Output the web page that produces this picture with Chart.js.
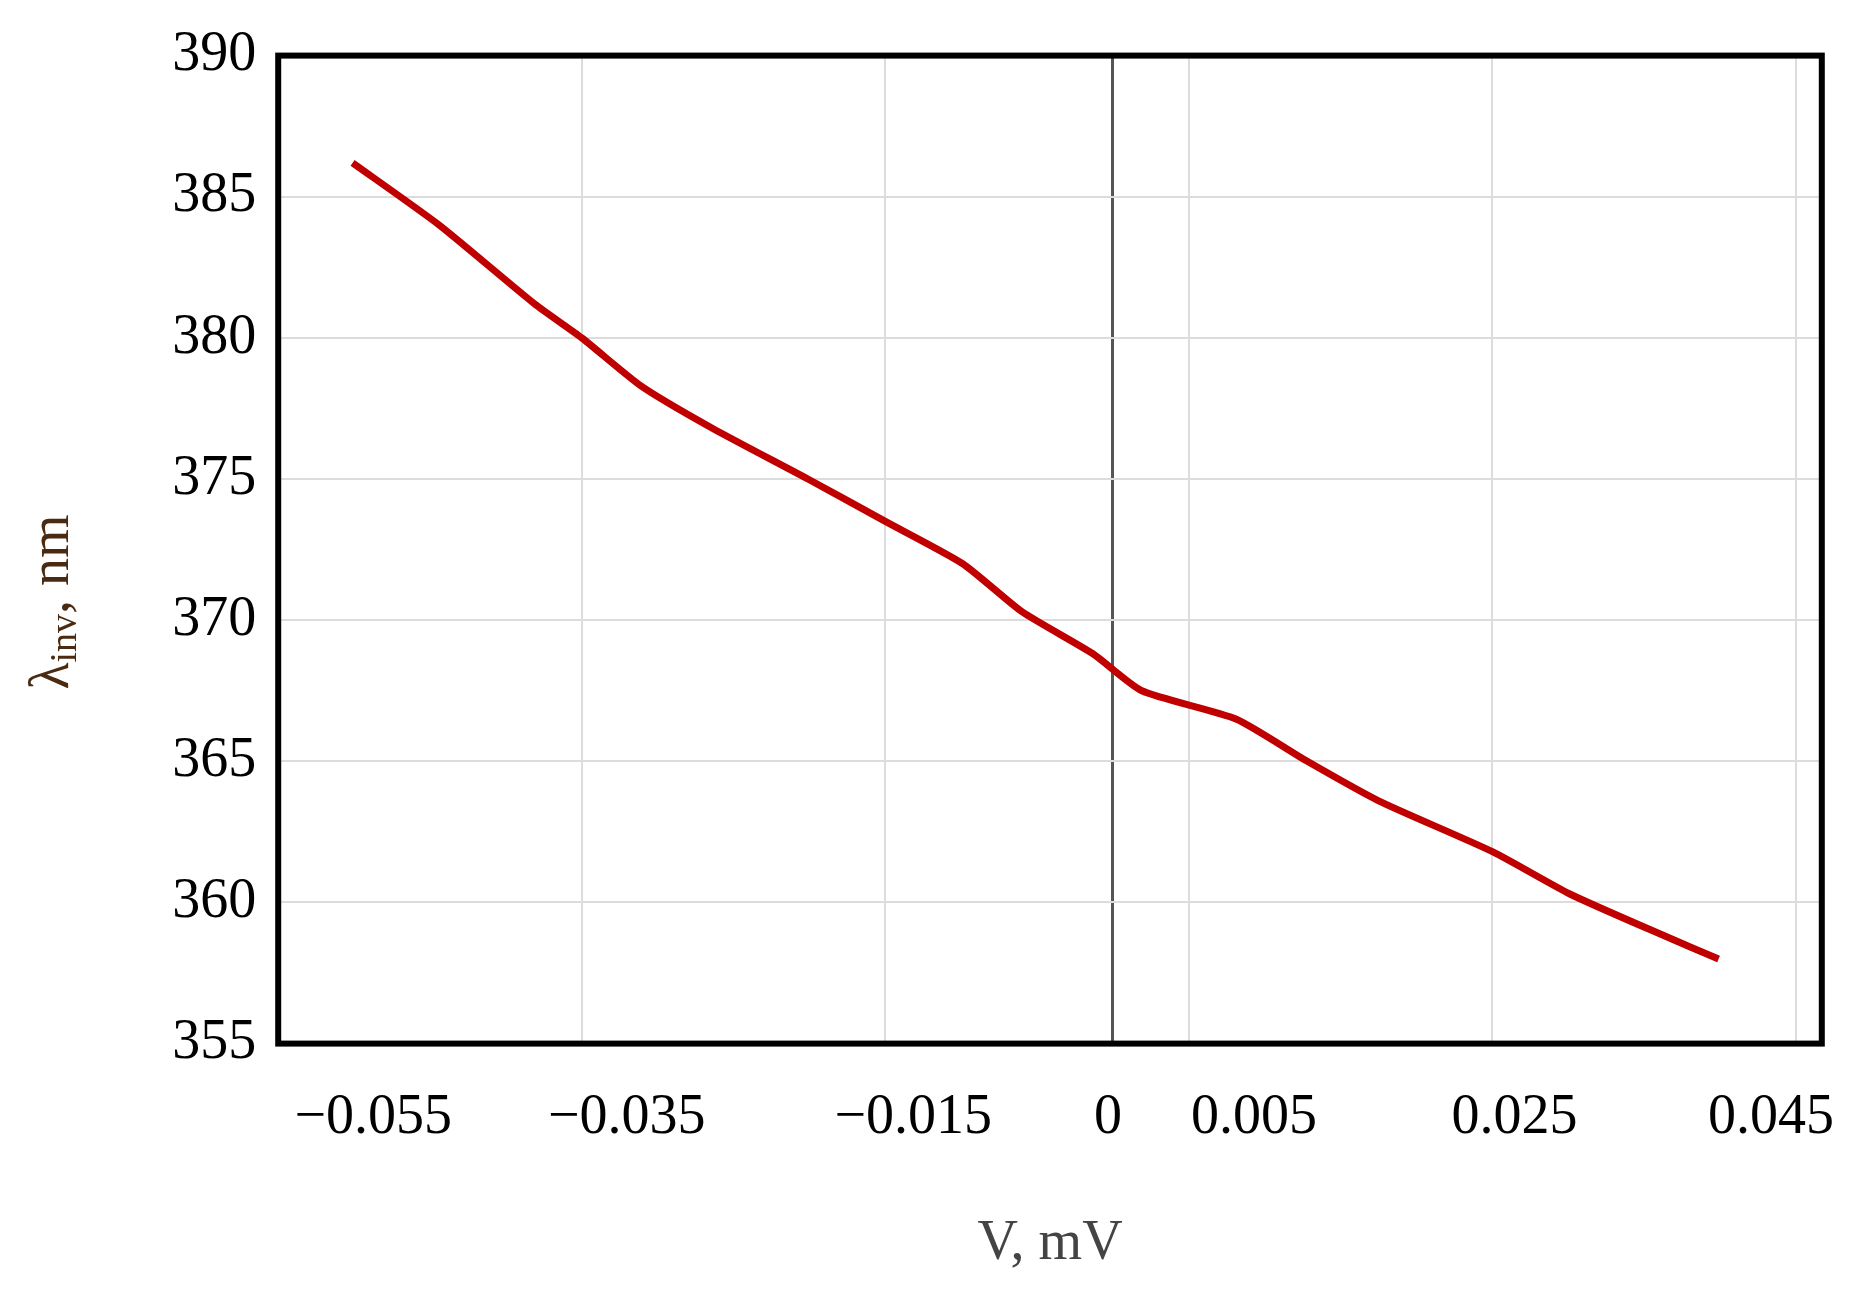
<!DOCTYPE html>
<html>
<head>
<meta charset="utf-8">
<script src="https://cdn.jsdelivr.net/npm/chart.js@4"></script>
<style>
  html, body { margin: 0; padding: 0; background: #fff; }
  #wrap { width: 1855px; height: 1292px; }
</style>
</head>
<body>
<div id="wrap"><canvas id="chart"></canvas></div>
<script>
// V, mV
const voltage = [-0.0501, -0.0444, -0.0381, -0.0350, -0.0311, -0.0264, -0.0201, -0.0150, -0.0099,
  -0.0060, -0.0013, 0.0019, 0.0081, 0.0128, 0.0175, 0.0250, 0.0301, 0.0364, 0.0399]
// lambda_inv, nm
const lambdaInv = [386.2, 384.0, 381.2, 380.0, 378.3, 376.8, 375.0, 373.5, 372.0,
  370.3, 368.8, 367.5, 366.5, 365.0, 363.6, 361.8, 360.3, 358.8, 358.0]
const xTicks = [-0.055, -0.035, -0.015, 0, 0.005, 0.025, 0.045]
const yTicks = [355, 360, 365, 370, 375, 380, 385, 390]

const points = voltage.map((v, i) => ({ x: v, y: lambdaInv[i] }))
const serif = 'Liberation Serif'
// the source figure's x labels sit off their grid lines
const labelShift = [95, 45, 28, -5, 65, 22, -25]

const frame = {
  id: 'frame',
  afterDraw(chart) {
    const ctx = chart.ctx, a = chart.chartArea, xs = chart.scales.x
    ctx.save()
    ctx.lineWidth = 6
    ctx.strokeStyle = '#000'
    ctx.strokeRect(a.left, a.top, a.right - a.left, a.bottom - a.top)

    ctx.fillStyle = '#000'
    ctx.font = '56px ' + serif
    ctx.textAlign = 'center'
    ctx.textBaseline = 'middle'
    xTicks.forEach((v, i) => {
      ctx.fillText(String(v).replace('-', '\u2212'), xs.getPixelForValue(v) + labelShift[i], a.bottom + 75)
    })

    // y title with subscript
    ctx.textAlign = 'left'
    ctx.textBaseline = 'alphabetic'
    ctx.translate(68, (a.top + a.bottom) / 2 + 30)
    ctx.rotate(-Math.PI / 2)
    ctx.fillStyle = '#4a2a10'
    ctx.font = '56px ' + serif
    ctx.fillText('λ', -110, 0)
    let w = ctx.measureText('λ').width
    ctx.font = '38px ' + serif
    ctx.fillText('inv', -110 + w, 8)
    w += ctx.measureText('inv').width
    ctx.font = '56px ' + serif
    ctx.fillText(', nm', -110 + w, 0)
    ctx.restore()
  }
}

new Chart(document.getElementById('chart').getContext('2d'), {
  type: 'line',
  data: {
    datasets: [{
      data: points,
      borderColor: '#c00000',
      borderWidth: 7,
      pointRadius: 0,
      tension: 0.2,
      fill: false
    }]
  },
  options: {
    responsive: true,
    maintainAspectRatio: false,
    animation: false,
    layout: { padding: { left: 75, right: 0, top: 0, bottom: 10 } },
    plugins: { legend: { display: false }, tooltip: { enabled: false } },
    scales: {
      x: {
        type: 'linear',
        min: -0.055,
        max: 0.0467,
        afterBuildTicks: (s) => { s.ticks = xTicks.map(v => ({ value: v })) },
        grid: {
          color: (c) => c.tick && c.tick.value === 0 ? '#555' : '#dcdcdc',
          lineWidth: (c) => c.tick && c.tick.value === 0 ? 3 : 2,
          drawTicks: false
        },
        border: { display: false },
        ticks: {
          color: 'rgba(0,0,0,0)',
          font: { family: serif, size: 56 },
          padding: 45,
          maxRotation: 0,
          callback: () => '0'
        },
        title: {
          display: true,
          text: 'V, mV',
          color: '#444',
          font: { family: serif, size: 56 },
          padding: { top: 10 }
        }
      },
      y: {
        min: 355,
        max: 390,
        afterBuildTicks: (s) => { s.ticks = yTicks.map(v => ({ value: v })) },
        grid: { color: '#dcdcdc', lineWidth: 2, drawTicks: false },
        border: { display: false },
        ticks: {
          color: '#000',
          font: { family: serif, size: 56 },
          padding: 22
        },
        title: { display: true, text: ' ', font: { size: 56 } }
      }
    }
  },
  plugins: [frame]
})
</script>
</body>
</html>
